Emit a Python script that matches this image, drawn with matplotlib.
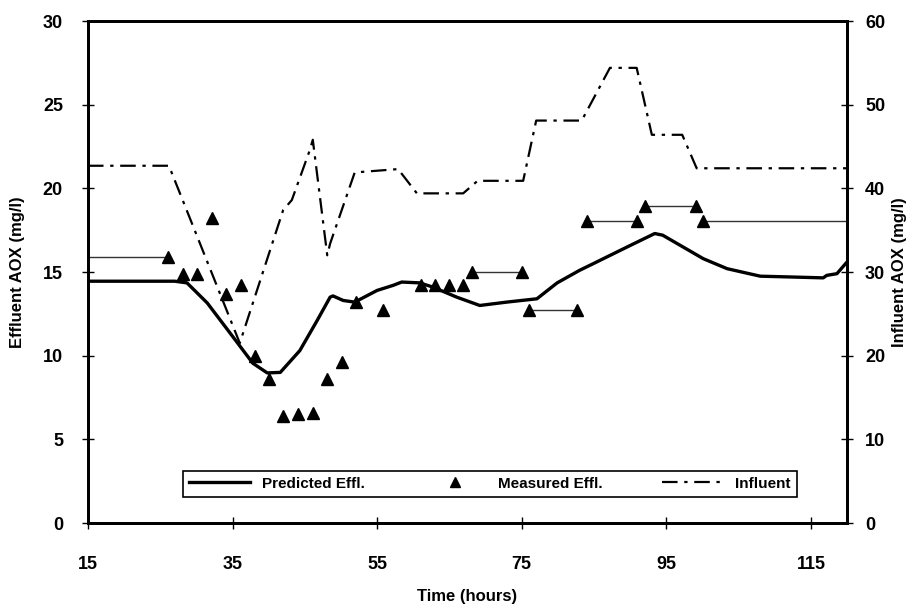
import matplotlib.pyplot as plt
from matplotlib.lines import Line2D

plt.rcParams['font.family'] = ['Liberation Sans', 'DejaVu Sans']
plt.rcParams['font.weight'] = 'bold'

# Predicted effluent AOX (mg/l), left axis
pred_t = [15, 27.0, 28.7, 31.5, 35.1, 37.8, 39.8, 41.6, 44.3, 46.7, 48.5, 48.9,
          50.3, 51.9, 55.0, 57.2, 58.4, 60.9, 62.7, 66.0, 69.2, 72.9, 77.1, 79.9,
          83.0, 84.9, 89.6, 93.4, 94.5, 97.3, 100.1, 103.4, 108.0, 112.5, 116.7,
          117.2, 118.6, 120]
pred_v = [14.45, 14.45, 14.35, 13.15, 11.1, 9.55, 8.97, 9.0, 10.3, 12.1, 13.5, 13.57,
          13.3, 13.2, 13.9, 14.2, 14.4, 14.35, 14.1, 13.5, 13.0, 13.2, 13.4, 14.35,
          15.1, 15.5, 16.5, 17.3, 17.2, 16.5, 15.8, 15.2, 14.75, 14.7, 14.65,
          14.8, 14.9, 15.6]

# Measured effluent AOX (mg/l)
meas_t = [26.1, 28.1, 30.1, 32.1, 34.1, 36.2, 38.1, 40.0, 42.0, 44.0, 46.1, 48.1,
          50.1, 52.1, 55.8, 61.1, 63.0, 64.9, 66.9, 68.1, 75.0, 76.0, 82.6,
          84.0, 90.9, 92.0, 99.1, 100.1]
meas_v = [15.9, 14.9, 14.9, 18.2, 13.7, 14.2, 10.0, 8.6, 6.4, 6.5, 6.6, 8.6,
          9.6, 13.2, 12.7, 14.2, 14.2, 14.2, 14.2, 15.0, 15.0, 12.7, 12.7,
          18.05, 18.05, 18.95, 18.95, 18.05]

# horizontal range bars on measured values (start, end, level)
bar_start = [15, 68.1, 76.0, 84.0, 92.0, 100.1]
bar_end = [26.1, 75.0, 82.6, 90.9, 99.1, 120]
bar_level = [15.9, 15.0, 12.7, 18.05, 18.95, 18.05]

# Influent AOX (mg/l), right axis
infl_t = [15, 26.2, 36.0, 42.0, 43.2, 45.7, 46.1, 48.1, 48.5, 51.9, 57.9, 60.5,
          66.9, 68.9, 75.2, 77.0, 83.3, 87.2, 90.9, 93.0, 97.2, 99.2, 120]
infl_v = [42.7, 42.7, 21.5, 37.4, 38.6, 44.6, 45.8, 32.0, 33.4, 41.9, 42.3, 39.4,
          39.4, 40.9, 40.9, 48.1, 48.1, 54.4, 54.4, 46.4, 46.4, 42.4, 42.4]

fig = plt.figure(figsize=(9.23, 6.09), dpi=100)
ax = fig.add_axes([0.0953, 0.1412, 0.8224, 0.8243])
ax2 = ax.twinx()

for s, e, lv in zip(bar_start, bar_end, bar_level):
    ax.plot([s, e], [lv, lv], color='#333333', lw=1.0)
ax.plot(pred_t, pred_v, color='black', lw=2.4)
ax.plot(meas_t, meas_v, linestyle='none', marker='^', color='black', markersize=9)

ax2.plot(infl_t, infl_v, color='black', lw=1.6, linestyle=(0, (7, 3, 1.5, 3)))

ax.set_xlim(15, 120)
ax.set_ylim(0, 30)
ax2.set_ylim(0, 60)
ax.set_xticks(range(15, 120, 20))
ax.set_yticks(range(0, 31, 5))
ax2.set_yticks(range(0, 61, 10))

for a in (ax, ax2):
    for sp in a.spines.values():
        sp.set_linewidth(2)
    a.tick_params(direction='inout', length=8, width=1, labelsize=13)

ax.tick_params(axis='y', pad=14)
ax.tick_params(axis='x', pad=20)
ax2.tick_params(axis='y', pad=9)
ax.set_xlabel('Time (hours)', fontsize=12, fontweight='bold', labelpad=11)
ax.set_ylabel('Effluent AOX (mg/l)', fontsize=12, fontweight='bold', labelpad=13)
ax2.set_ylabel('Influent AOX (mg/l)', fontsize=12, fontweight='bold', labelpad=5)

handles = [Line2D([], [], color='black', lw=2.4),
           Line2D([], [], linestyle='none', marker='^', color='black', markersize=7),
           Line2D([], [], color='black', lw=1.6, linestyle=(0, (7, 3, 1.5, 3)))]
labels = ['Predicted Effl.', 'Measured Effl.', 'Influent']
leg = ax2.legend(handles, labels, ncol=3, loc='lower left', mode='expand',
                 bbox_to_anchor=(0.125, 0.052, 0.809, 0.077), fancybox=False,
                 edgecolor='black', framealpha=1, fontsize=11, handlelength=4,
                 borderaxespad=0)
leg.get_frame().set_linewidth(1.2)

fig.savefig('out.png', dpi=100)
